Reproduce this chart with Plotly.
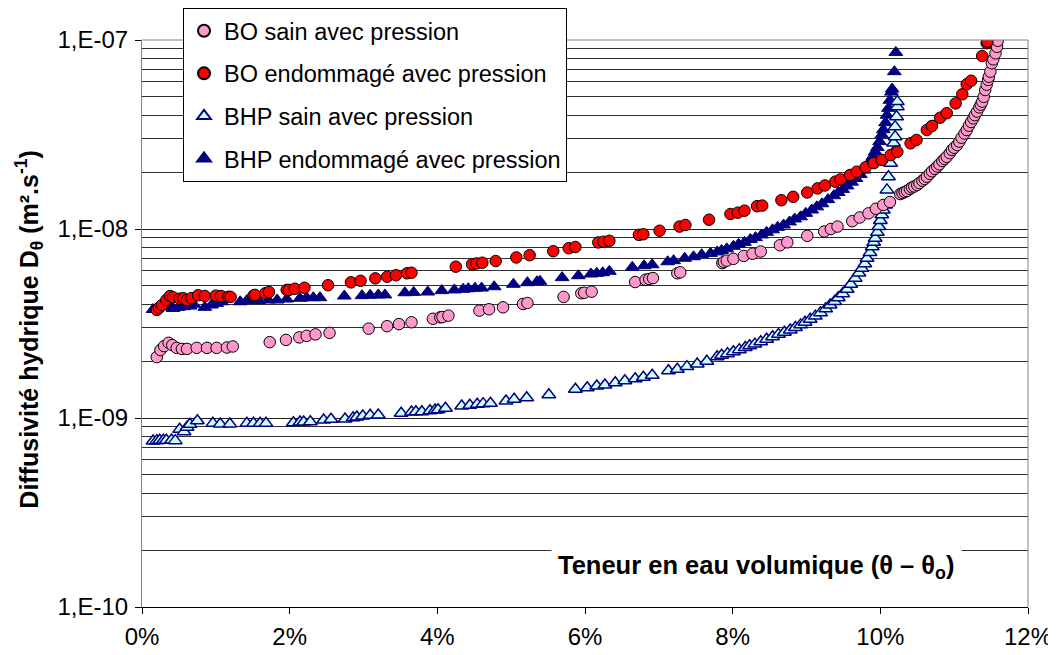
import plotly.graph_objects as go

# ---- data: x = volumetric water content (%), y = diffusivity (units of 1e-9 m2/s) ----
bo_sain_x = [0.20, 0.25, 0.30, 0.36, 0.41, 0.47, 0.54, 0.61, 0.74, 0.88, 1.01, 1.15, 1.23,
             1.73, 1.95, 2.13, 2.23, 2.35, 2.54, 3.07, 3.32, 3.48, 3.65, 3.94, 4.04, 4.07,
             4.15, 4.57, 4.70, 4.89, 5.16, 5.22, 5.71, 5.95, 5.99, 6.09, 6.68, 6.82, 6.87,
             6.92, 7.25, 7.29, 7.86, 7.88, 7.92, 8.01, 8.15, 8.27, 8.38, 8.64, 8.74, 9.01,
             9.24, 9.33, 9.42, 9.62, 9.72, 9.84, 9.94, 10.04, 10.13, 10.27, 10.30, 10.33,
             10.36, 10.40, 10.43, 10.46, 10.50, 10.53, 10.57, 10.60, 10.63, 10.67, 10.70,
             10.74, 10.77, 10.80, 10.84, 10.87, 10.90, 10.94, 10.97, 11.00, 11.04, 11.07,
             11.10, 11.14, 11.17, 11.20, 11.23, 11.26, 11.28, 11.31, 11.34, 11.36, 11.38,
             11.40, 11.42, 11.44, 11.46, 11.47, 11.49, 11.51, 11.53, 11.56, 11.58, 11.59]
bo_sain_y = [2.10, 2.29, 2.40, 2.50, 2.43, 2.35, 2.32, 2.32, 2.35, 2.35, 2.35, 2.36, 2.39,
             2.52, 2.59, 2.67, 2.72, 2.77, 2.82, 2.97, 3.06, 3.14, 3.21, 3.35, 3.41, 3.42,
             3.48, 3.70, 3.76, 3.85, 4.01, 4.06, 4.37, 4.57, 4.60, 4.66, 5.24, 5.39, 5.44,
             5.50, 5.83, 5.90, 6.60, 6.70, 6.80, 6.95, 7.20, 7.40, 7.60, 8.20, 8.50, 9.20,
             9.70, 10.0, 10.3, 11.0, 11.5, 12.1, 12.8, 13.4, 13.9, 15.3, 15.5, 15.7,
             15.9, 16.3, 16.6, 16.8, 17.1, 17.5, 18.0, 18.4, 18.9, 19.6, 20.2,
             20.8, 21.4, 22.0, 22.9, 23.5, 24.1, 25.2, 26.2, 26.9, 27.8, 29.0,
             30.4, 32.0, 33.4, 35.2, 36.8, 38.5, 40.0, 41.8, 44.0, 45.5, 47.2,
             50.0, 54.4, 58.0, 61.5, 63.9, 68.0, 75.3, 79.0, 85.0, 92.0, 99.0]

bo_end_x = [0.20, 0.23, 0.27, 0.33, 0.38, 0.42, 0.51, 0.56, 0.61, 0.67, 0.76, 0.85, 1.00,
            1.07, 1.17, 1.20, 1.51, 1.53, 1.67, 1.72, 1.96, 1.99, 2.07, 2.20, 2.52, 2.83,
            2.96, 3.16, 3.32, 3.44, 3.59, 3.65, 4.25, 4.47, 4.53, 4.61, 4.79, 5.07, 5.25,
            5.57, 5.78, 5.87, 6.18, 6.25, 6.33, 6.73, 6.79, 7.01, 7.28, 7.36, 7.68, 7.97,
            8.07, 8.16, 8.33, 8.40, 8.66, 8.82, 9.01, 9.15, 9.25, 9.39, 9.46, 9.59, 9.68,
            9.80, 9.91, 10.02, 10.14, 10.23, 10.41, 10.49, 10.63, 10.70, 10.81, 10.90,
            11.02, 11.11, 11.17, 11.23, 11.38, 11.44, 11.45]
bo_end_y = [3.73, 3.83, 3.96, 4.21, 4.42, 4.35, 4.28, 4.30, 4.21, 4.31, 4.46, 4.42, 4.44,
            4.42, 4.38, 4.37, 4.44, 4.48, 4.57, 4.64, 4.76, 4.76, 4.83, 4.89, 5.04, 5.22,
            5.32, 5.48, 5.59, 5.69, 5.83, 5.87, 6.32, 6.50, 6.57, 6.63, 6.77, 7.07, 7.27,
            7.63, 7.91, 8.03, 8.49, 8.56, 8.66, 9.31, 9.38, 9.79, 10.3, 10.5, 11.2, 12.0,
            12.2, 12.5, 13.2, 13.3, 14.2, 14.8, 15.6, 16.4, 17.0, 17.8, 18.3, 19.3, 20.1,
            21.2, 22.3, 23.2, 24.6, 25.6, 28.4, 29.6, 33.4, 35.1, 38.8, 41.0,
            46.2, 51.6, 58.3, 60.9, 82.3, 96.2, 98.0]

bhp_sain_x = [0.15, 0.20, 0.24, 0.29, 0.33, 0.40, 0.45, 0.51, 0.57, 0.61, 0.65, 0.75, 0.96,
              1.06, 1.19, 1.42, 1.51, 1.60, 1.68, 2.05, 2.14, 2.19, 2.28, 2.46, 2.56, 2.75,
              2.86, 2.91, 2.99, 3.09, 3.20, 3.51, 3.65, 3.71, 3.79, 3.90, 3.97, 4.01, 4.11,
              4.33, 4.44, 4.54, 4.62, 4.72, 4.93, 5.04, 5.21, 5.51, 5.87, 6.03, 6.16, 6.27,
              6.41, 6.54, 6.68, 6.79, 6.91, 7.13, 7.25, 7.38, 7.52, 7.65, 7.79, 7.85, 7.93,
              8.01, 8.09, 8.17, 8.23, 8.30, 8.38, 8.46, 8.54, 8.62, 8.70, 8.78, 8.85, 8.92,
              8.98, 9.05, 9.12, 9.19, 9.26, 9.32, 9.38, 9.43, 9.49, 9.55, 9.60, 9.66, 9.71,
              9.75, 9.79, 9.82, 9.86, 9.89, 9.91, 9.93, 9.96, 9.98, 10.00, 10.02, 10.04,
              10.07, 10.09, 10.11, 10.14, 10.17, 10.18, 10.20, 10.20, 10.22, 10.23, 10.23]
bhp_sain_y = [0.755, 0.759, 0.762, 0.762, 0.762, 0.765, 0.759, 0.871, 0.846, 0.893, 0.926,
              0.968, 0.937, 0.930, 0.930, 0.937, 0.937, 0.937, 0.937, 0.944, 0.952, 0.952,
              0.956, 0.976, 0.984, 0.988, 1.004, 1.012, 1.025, 1.033, 1.037, 1.059, 1.076,
              1.080, 1.080, 1.093, 1.102, 1.106, 1.125, 1.157, 1.167, 1.181, 1.191, 1.196,
              1.230, 1.256, 1.280, 1.328, 1.419, 1.446, 1.476, 1.495, 1.537, 1.575, 1.614,
              1.643, 1.683, 1.779, 1.811, 1.870, 1.931, 1.996, 2.11, 2.15, 2.19,
              2.24, 2.30, 2.36, 2.41, 2.46, 2.53, 2.61, 2.69, 2.77, 2.84, 2.92, 3.01, 3.11,
              3.21, 3.33, 3.46, 3.61, 3.78, 3.96, 4.14, 4.33, 4.55, 4.80, 5.10, 5.48, 5.85,
              6.19, 6.55, 7.00, 7.50, 8.06, 8.50, 8.93, 9.60, 10.3, 11.1, 11.9, 12.6,
              13.4, 16.1, 18.9, 22.3, 25.2, 28.5, 30.8, 34.8, 39.3, 44.4, 47.2]

bhp_end_x = [0.15, 0.20, 0.28, 0.38, 0.42, 0.49, 0.56, 0.65, 0.70, 0.85, 0.94, 1.01, 1.08,
             1.33, 1.42, 1.51, 1.58, 1.71, 1.83, 1.96, 2.14, 2.23, 2.32, 2.41, 2.74, 2.98,
             3.09, 3.20, 3.29, 3.56, 3.68, 3.87, 4.06, 4.23, 4.35, 4.42, 4.51, 4.60, 4.77,
             5.03, 5.22, 5.35, 5.39, 5.69, 5.91, 6.08, 6.16, 6.24, 6.33, 6.64, 6.80, 6.91,
             7.12, 7.20, 7.35, 7.47, 7.58, 7.70, 7.79, 7.85, 7.92, 8.01, 8.08, 8.16, 8.24,
             8.31, 8.39, 8.46, 8.54, 8.61, 8.69, 8.77, 8.84, 8.92, 8.99, 9.07, 9.14, 9.21,
             9.29, 9.37, 9.43, 9.49, 9.55, 9.61, 9.67, 9.73, 9.78, 9.83, 9.86, 9.90, 9.93,
             9.96, 9.99, 10.02, 10.04, 10.07, 10.09, 10.11, 10.13, 10.15, 10.16, 10.19, 10.21]
bhp_end_y = [3.75, 3.80, 3.90, 3.88, 3.80, 3.85, 3.88, 3.91, 4.00, 3.85, 3.96, 4.04, 4.12,
             4.12, 4.18, 4.21, 4.18, 4.21, 4.21, 4.26, 4.30, 4.33, 4.33, 4.33, 4.42, 4.44,
             4.46, 4.48, 4.48, 4.60, 4.62, 4.64, 4.72, 4.76, 4.80, 4.83, 4.86, 4.87, 4.95,
             5.10, 5.20, 5.26, 5.29, 5.53, 5.66, 5.78, 5.83, 5.87, 5.97, 6.27, 6.39, 6.47,
             6.71, 6.80, 7.00, 7.13, 7.31, 7.43, 7.56, 7.70, 7.85, 8.10, 8.30, 8.50, 8.80,
             9.00, 9.30, 9.60, 9.90, 10.2, 10.5, 10.9, 11.3, 11.6, 12.1, 12.6, 13.1, 13.6,
             14.3, 15.0, 15.6, 16.2, 16.9, 17.7, 18.5, 19.4, 20.5, 21.8, 22.8, 24.2, 25.6,
             27.0, 29.0, 31.5, 33.5, 36.5, 40.0, 43.5, 48.0, 53.0, 55.0, 68.0, 86.0]

y_tick_vals = [1e-10, 1e-9, 1e-8, 1e-7]
y_tick_text = ["1,E-10", "1,E-09", "1,E-08", "1,E-07"]
x_tick_vals = [0, 2, 4, 6, 8, 10, 12]
x_tick_text = ["0%", "2%", "4%", "6%", "8%", "10%", "12%"]

SCALE = 1e-9
FONT = "Liberation Sans, Arial, sans-serif"

def scaled(v):
    return [a * SCALE for a in v]

fig = go.Figure()
fig.add_trace(go.Scatter(
    x=bhp_end_x, y=scaled(bhp_end_y), mode="markers", name="BHP endommagé avec pression",
    legendrank=4, legendgroup="d",
    marker=dict(symbol="triangle-up", size=12, color="#000080",
                line=dict(color="#000080", width=1))))
fig.add_trace(go.Scatter(
    x=bhp_sain_x, y=scaled(bhp_sain_y), mode="markers", name="BHP sain avec pression",
    legendrank=3, legendgroup="c",
    marker=dict(symbol="triangle-up", size=12, color="#CCFFFF",
                line=dict(color="#000080", width=1.5))))
fig.add_trace(go.Scatter(
    x=bo_sain_x, y=scaled(bo_sain_y), mode="markers", name="BO sain avec pression",
    legendrank=1, legendgroup="a",
    marker=dict(symbol="circle", size=11.5, color="#FF99CC",
                line=dict(color="#000000", width=1))))
fig.add_trace(go.Scatter(
    x=bo_end_x, y=scaled(bo_end_y), mode="markers", name="BO endommagé avec pression",
    legendrank=2, legendgroup="b",
    marker=dict(symbol="circle", size=11.5, color="#FF0000",
                line=dict(color="#000000", width=1))))

minor_vals = [m * 10.0 ** e for e in (-10, -9, -8) for m in range(2, 10)]

# the page body adds an 8px offset, so the figure is 8px smaller than the window
fig.update_layout(
    width=1048, height=647,
    margin=dict(l=134, r=28, t=32, b=48, autoexpand=False),
    paper_bgcolor="white", plot_bgcolor="white",
    font=dict(family=FONT, size=23, color="black"),
    showlegend=True,
    legend=dict(xref="container", yref="container", x=0.167, y=1.0,
                xanchor="left", yanchor="top",
                bgcolor="white", bordercolor="black", borderwidth=1,
                font=dict(size=23.5, family=FONT), traceorder="grouped",
                tracegroupgap=9, itemsizing="constant"),
    xaxis=dict(range=[0, 12], tickvals=x_tick_vals, ticktext=x_tick_text,
               showgrid=False, zeroline=False, showline=True, linecolor="black",
               linewidth=1, ticks="outside", ticklen=6, tickcolor="black",
               tickfont=dict(size=24), ticklabelstandoff=2),
    yaxis=dict(type="log", range=[-10, -7], tickvals=y_tick_vals, ticktext=y_tick_text,
               showgrid=True, gridcolor="#202020", gridwidth=1, zeroline=False,
               showline=True, linecolor="#808080", linewidth=1, ticks="outside",
               ticklen=6, tickcolor="black", tickfont=dict(size=24),
               ticklabelstandoff=2,
               minor=dict(tickvals=minor_vals, showgrid=True, gridcolor="#303030",
                          gridwidth=1, ticks="")),
    shapes=[dict(type="line", xref="paper", yref="paper", x0=0, x1=1, y0=1, y1=1,
                 line=dict(color="#808080", width=1)),
            dict(type="line", xref="paper", yref="paper", x0=1, x1=1, y0=0, y1=1,
                 line=dict(color="#808080", width=1))],
    annotations=[
        dict(text="<b>Teneur en eau volumique (θ – θ<sub>o</sub>)</b>",
             xref="paper", yref="paper", x=0.694, y=0.07,
             xanchor="center", yanchor="middle", showarrow=False,
             bgcolor="white", borderpad=6, font=dict(size=25.5)),
        dict(text="<b>Diffusivité hydrique D<sub>θ</sub> (m².s<sup>-1</sup>)</b>",
             xref="paper", yref="paper", x=-0.127, y=0.49, textangle=-90,
             xanchor="center", yanchor="middle", showarrow=False,
             font=dict(size=25)),
    ],
)

fig.write_html("out.html")
